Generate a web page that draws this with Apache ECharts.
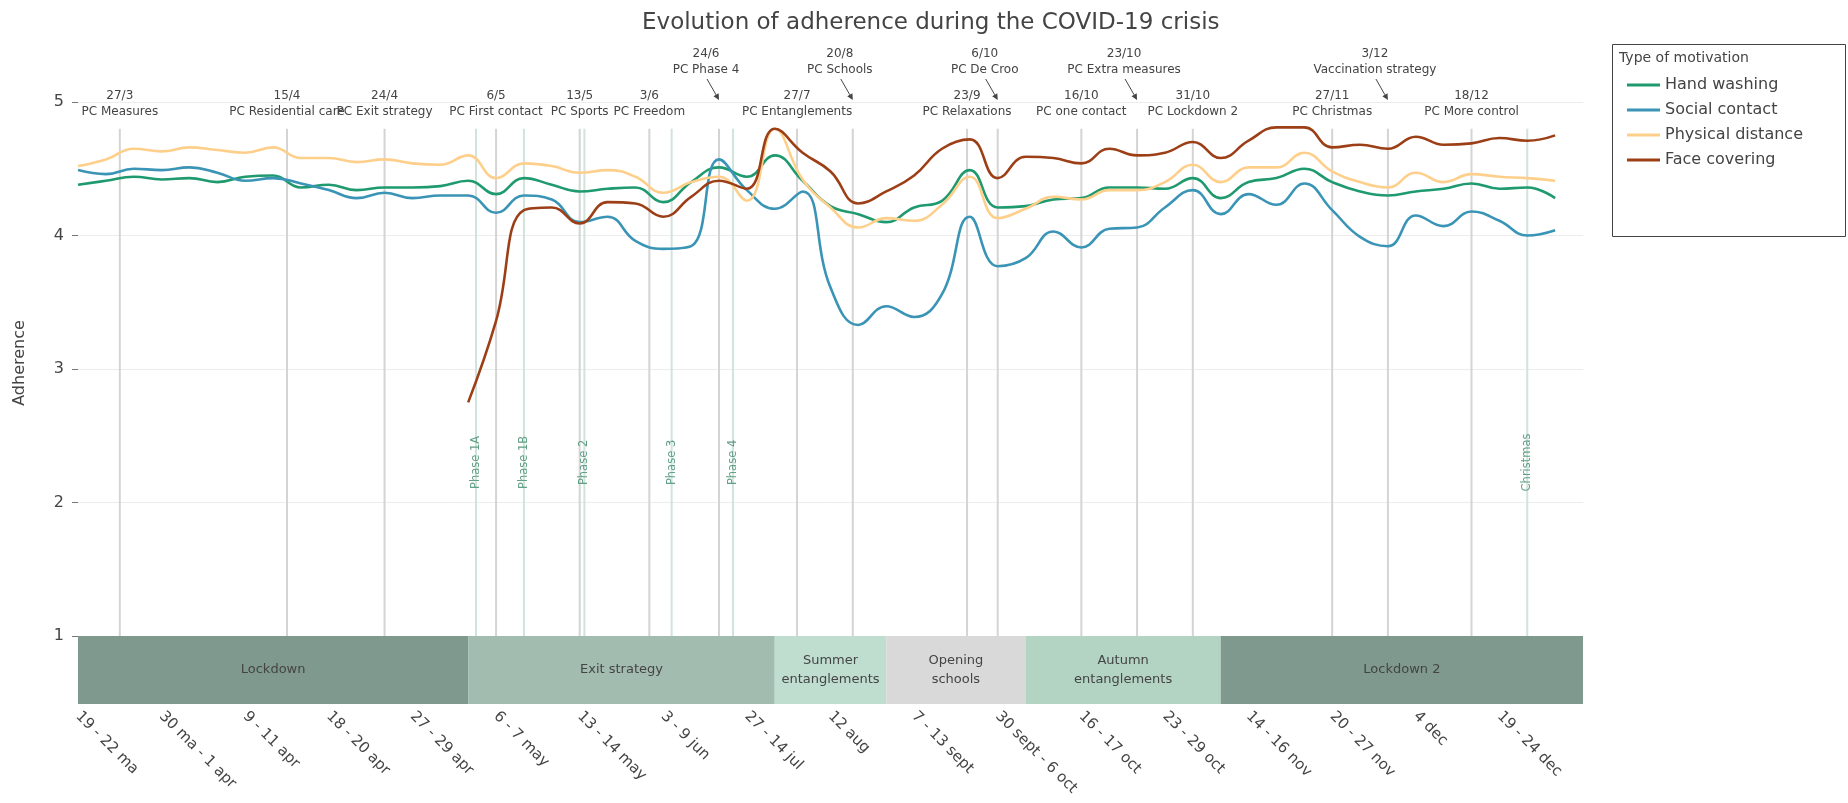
<!DOCTYPE html>
<html>
<head>
<meta charset="utf-8">
<title>Evolution of adherence during the COVID-19 crisis</title>
<script src="https://cdn.jsdelivr.net/npm/echarts@6/dist/echarts.min.js"></script>
<style>
  html, body { margin: 0; padding: 0; background: #fff; }
  #chart { width: 1848px; height: 803px; }
</style>
</head>
<body>
<div id="chart"></div>
<script>
// one step on the x axis = one survey wave (0..53), a label every 3rd wave
var tickLabels = ['19 - 22 ma', '30 ma - 1 apr', '9 - 11 apr', '18 - 20 apr', '27 - 29 apr', '6 - 7 may',
  '13 - 14 may', '3 - 9 jun', '27 - 14 jul', '12 aug', '7 - 13 sept', '30 sept - 6 oct', '16 - 17 oct',
  '23 - 29 oct', '14 - 16 nov', '20 - 27 nov', '4 dec', '19 - 24 dec'];

var handWashing = [4.38, 4.41, 4.44, 4.42, 4.43, 4.40, 4.44, 4.45, 4.36, 4.38,
  4.34, 4.36, 4.36, 4.37, 4.41, 4.31, 4.43, 4.38, 4.33, 4.35,
  4.36, 4.25, 4.40, 4.51, 4.44, 4.60, 4.41, 4.22, 4.16, 4.10,
  4.21, 4.26, 4.49, 4.21, 4.22, 4.27, 4.28, 4.36, 4.36, 4.35,
  4.43, 4.28, 4.40, 4.43, 4.50, 4.40, 4.33, 4.30, 4.33, 4.35,
  4.39, 4.35, 4.36, 4.28];
var socialContact = [4.49, 4.46, 4.50, 4.49, 4.51, 4.47, 4.41, 4.43, 4.39, 4.34,
  4.28, 4.32, 4.28, 4.30, 4.30, 4.17, 4.30, 4.27, 4.10, 4.14,
  3.96, 3.90, 3.92, 4.57, 4.34, 4.20, 4.33, 3.61, 3.33, 3.47,
  3.39, 3.56, 4.14, 3.77, 3.83, 4.03, 3.91, 4.05, 4.06, 4.21,
  4.34, 4.16, 4.31, 4.23, 4.39, 4.19, 3.99, 3.92, 4.15, 4.07,
  4.18, 4.11, 4.00, 4.04];
var physicalDistance = [4.52, 4.57, 4.65, 4.63, 4.66, 4.64, 4.62, 4.66, 4.58, 4.58,
  4.55, 4.57, 4.54, 4.53, 4.60, 4.43, 4.54, 4.52, 4.47, 4.49,
  4.44, 4.32, 4.40, 4.44, 4.26, 4.80, 4.42, 4.21, 4.06, 4.13,
  4.11, 4.23, 4.44, 4.13, 4.20, 4.29, 4.27, 4.34, 4.34, 4.40,
  4.53, 4.40, 4.51, 4.51, 4.62, 4.48, 4.40, 4.36, 4.47, 4.40,
  4.46, 4.44, 4.43, 4.41];
// face covering is only asked from wave 14 on
var faceStart = 14;
var faceCovering = [2.75, 3.36, 4.19, 4.21, 4.09, 4.25,
  4.24, 4.14, 4.29, 4.41, 4.35, 4.80, 4.62, 4.48, 4.24, 4.33,
  4.45, 4.65, 4.72, 4.43, 4.59, 4.58, 4.54, 4.65, 4.60, 4.62,
  4.70, 4.58, 4.71, 4.81, 4.81, 4.66, 4.68, 4.65, 4.74, 4.68,
  4.69, 4.73, 4.71, 4.75];

// press conferences
var pcWaves = [1.5, 7.5, 11, 15, 18, 20.5, 23, 25.8, 27.8, 31.9, 33, 36, 38, 40, 45, 47, 50];
var pcDates = ['27/3', '15/4', '24/4', '6/5', '13/5', '3/6', '24/6', '27/7', '20/8', '23/9', '6/10',
  '16/10', '23/10', '31/10', '27/11', '3/12', '18/12'];
var pcTexts = ['PC Measures', 'PC Residential care', 'PC Exit strategy', 'PC First contact', 'PC Sports',
  'PC Freedom', 'PC Phase 4', 'PC Entanglements', 'PC Schools', 'PC Relaxations', 'PC De Croo',
  'PC one contact', 'PC Extra measures', 'PC Lockdown 2', 'PC Christmas', 'Vaccination strategy',
  'PC More control'];
var pcArrow = [0, 0, 0, 0, 0, 0, 1, 0, 1, 0, 1, 0, 1, 0, 0, 1, 0];

// phases of the exit plan
var phaseWaves = [14.28, 16, 18.17, 21.3, 23.5, 52];
var phaseNames = ['Phase 1A', 'Phase 1B', 'Phase 2', 'Phase 3', 'Phase 4', 'Christmas'];

// periods in the bottom band
var periodStart = [0, 14, 25, 29, 34, 41];
var periodEnd = [14, 25, 29, 34, 41, 54];
var periodNames = ['Lockdown', 'Exit strategy', 'Summer\nentanglements', 'Opening\nschools',
  'Autumn\nentanglements', 'Lockdown 2'];
var periodColors = ['#7f998e', '#a3bcb0', '#bfded0', '#d9d9d9', '#b3d3c3', '#7f998e'];

var FONT = '"DejaVu Sans", Verdana, sans-serif';
var TXT = '#444';

function pairs(arr, start) {
  return arr.map(function (v, i) { return [i + start, v]; });
}

function lineSeries(name, arr, start, color) {
  return {
    name: name, type: 'line', xAxisIndex: 0, yAxisIndex: 0,
    data: pairs(arr, start), smooth: 0.45, showSymbol: false, symbol: 'none',
    lineStyle: { width: 2.6, color: color }, itemStyle: { color: color }, z: 5
  };
}

var chart = echarts.init(document.getElementById('chart'));

var option = {
  animation: false,
  textStyle: { fontFamily: FONT },
  title: {
    text: 'Evolution of adherence during the COVID-19 crisis',
    left: 637, top: 7,
    textStyle: { fontSize: 23, fontWeight: 'normal', color: TXT, fontFamily: FONT }
  },
  legend: {
    orient: 'vertical', left: 1622, top: 72,
    icon: 'rect', itemWidth: 33, itemHeight: 3, itemGap: 9,
    textStyle: { fontSize: 16, color: TXT, fontFamily: FONT },
    data: ['Hand washing', 'Social contact', 'Physical distance', 'Face covering']
  },
  graphic: [
    { type: 'rect', left: 1612, top: 44, z: -1,
      shape: { width: 233, height: 192 }, style: { fill: '#fff', stroke: '#444', lineWidth: 1 } },
    { type: 'text', left: 1619, top: 51,
      style: { text: 'Type of motivation', fontSize: 14, fill: TXT, fontFamily: FONT } }
  ],
  grid: [
    { left: 78, right: 265, top: 102, height: 534 },
    { left: 78, right: 265, top: 636, height: 68 }
  ],
  xAxis: [
    { type: 'value', gridIndex: 0, min: 0, max: 54, show: false },
    { type: 'value', gridIndex: 1, min: 0, max: 54, interval: 3,
      axisLine: { show: false }, axisTick: { show: false }, splitLine: { show: false },
      axisLabel: {
        rotate: -45, margin: 10, fontSize: 15, color: TXT, fontFamily: FONT,
        formatter: function (v) { return tickLabels[Math.round(v / 3)] || ''; }
      } }
  ],
  yAxis: [
    { type: 'value', gridIndex: 0, min: 1, max: 5, interval: 1,
      name: 'Adherence', nameLocation: 'middle', nameGap: 50,
      nameTextStyle: { fontSize: 16, color: TXT, fontFamily: FONT, padding: [0, 0, 0, 12] },
      axisLine: { show: false },
      axisTick: { show: true, length: 6, lineStyle: { color: '#777' } },
      axisLabel: { fontSize: 16, color: TXT, margin: 14, fontFamily: FONT },
      splitLine: { lineStyle: { color: '#ececec', width: 1 } } },
    { type: 'value', gridIndex: 1, min: 0, max: 1, show: false }
  ],
  series: [
    // period band
    {
      type: 'custom', xAxisIndex: 1, yAxisIndex: 1, silent: true, z: 1,
      data: periodNames.map(function (n, i) { return [periodStart[i], periodEnd[i], i]; }),
      renderItem: function (params, api) {
        var i = api.value(2);
        var a = api.coord([api.value(0), 1]);
        var b = api.coord([api.value(1), 0]);
        return { type: 'group', children: [
          { type: 'rect', shape: { x: a[0], y: a[1], width: b[0] - a[0], height: b[1] - a[1] },
            style: { fill: periodColors[i] } },
          { type: 'text', style: { text: periodNames[i], x: (a[0] + b[0]) / 2, y: (a[1] + b[1]) / 2,
            align: 'center', verticalAlign: 'middle', fill: TXT, fontSize: 13, lineHeight: 19, fontFamily: FONT } }
        ] };
      }
    },
    // vertical lines: press conferences (gray) and phases (teal)
    {
      type: 'custom', xAxisIndex: 0, yAxisIndex: 0, silent: true, z: 1,
      data: pcWaves.map(function (x) { return [x, 0]; })
        .concat(phaseWaves.map(function (x) { return [x, 1]; })),
      renderItem: function (params, api) {
        var a = api.coord([api.value(0), 1]);
        var b = api.coord([api.value(0), 4.8]);
        return { type: 'line', shape: { x1: a[0], y1: a[1], x2: b[0], y2: b[1] },
          style: { stroke: api.value(1) ? '#cfe4db' : '#d4d4d4', lineWidth: 2 } };
      }
    },
    // phase labels
    {
      type: 'custom', xAxisIndex: 0, yAxisIndex: 0, silent: true, z: 2,
      data: phaseWaves.map(function (x, i) { return [x, 2.3, i]; }),
      renderItem: function (params, api) {
        var p = api.coord([api.value(0), api.value(1)]);
        return { type: 'text', x: p[0], y: p[1], rotation: Math.PI / 2,
          style: { text: phaseNames[api.value(2)], x: 0, y: 0, align: 'center', verticalAlign: 'middle',
            fill: '#64a088', fontSize: 11.5, fontFamily: FONT } };
      }
    },
    // press conference annotations
    {
      type: 'custom', xAxisIndex: 0, yAxisIndex: 0, silent: true, z: 6,
      data: pcWaves.map(function (x, i) { return [x, 5, i]; }),
      renderItem: function (params, api) {
        var i = api.value(2);
        var p = api.coord([api.value(0), api.value(1)]);
        var txt = pcDates[i] + '\n' + pcTexts[i];
        var st = { text: txt, align: 'center', verticalAlign: 'middle', fill: TXT,
          fontSize: 12, lineHeight: 16, fontFamily: FONT };
        if (!pcArrow[i]) {
          st.x = p[0]; st.y = p[1] + 2;
          return { type: 'text', style: st };
        }
        var tx = p[0] - 13, ty = p[1] - 40;
        st.x = tx; st.y = ty;
        var t0 = [tx + 1, ty + 17], t1 = [p[0], p[1] - 2];
        var dx = t1[0] - t0[0], dy = t1[1] - t0[1], len = Math.sqrt(dx * dx + dy * dy);
        var ux = dx / len, uy = dy / len;
        var hx = t1[0] - ux * 6, hy = t1[1] - uy * 6;
        return { type: 'group', children: [
          { type: 'text', style: st },
          { type: 'line', shape: { x1: t0[0], y1: t0[1], x2: hx, y2: hy }, style: { stroke: '#444', lineWidth: 1 } },
          { type: 'polygon', shape: { points: [t1, [hx - uy * 3, hy + ux * 3], [hx + uy * 3, hy - ux * 3]] },
            style: { fill: '#444' } }
        ] };
      }
    },
    lineSeries('Hand washing', handWashing, 0, '#1f9a6e'),
    lineSeries('Social contact', socialContact, 0, '#3a94b6'),
    lineSeries('Physical distance', physicalDistance, 0, '#fecf8a'),
    lineSeries('Face covering', faceCovering, faceStart, '#9c3f17')
  ]
};

chart.setOption(option);
</script>
</body>
</html>
